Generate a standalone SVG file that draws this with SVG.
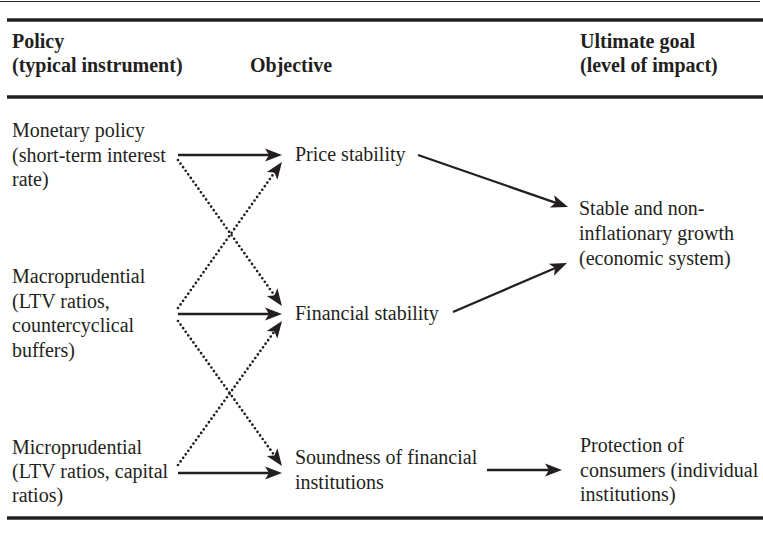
<svg xmlns="http://www.w3.org/2000/svg" width="763" height="541" viewBox="0 0 763 541">
  <style>
    .bg { fill: #ffffff; }
    .rule { stroke: #231f20; fill: none; }
    .thin { stroke-width: 1; }
    .thick { stroke-width: 3.5; }
    .t { font-family: 'Liberation Serif', 'DejaVu Serif', serif; fill: #231f20; }
    .hd { font-size: 20px; font-weight: bold; }
    .bd { font-size: 20px; }
    .solid { stroke: #231f20; stroke-width: 2.3; fill: none; marker-end: url(#head); }
    .dot { stroke: #231f20; stroke-width: 2.7; fill: none; stroke-dasharray: 0 4.4; stroke-linecap: round; marker-end: url(#head); }
  </style>
  <defs>
    <marker id="head" markerUnits="userSpaceOnUse" markerWidth="20" markerHeight="16" refX="5" refY="6.5" orient="auto" overflow="visible">
      <path d="M0,0 L17,6.5 L0,13 L4,6.5 Z" fill="#231f20" stroke="none"/>
    </marker>
  </defs>

  <rect class="bg" x="0" y="0" width="763" height="541"/>

  <!-- table rules -->
  <g id="rules">
    <line class="rule thin" x1="0" y1="1.5" x2="760" y2="1.5"/>
    <line class="rule thick" x1="7" y1="20" x2="763" y2="20"/>
    <line class="rule thick" x1="7" y1="97" x2="763" y2="97"/>
    <line class="rule thick" x1="7" y1="518" x2="763" y2="518"/>
  </g>

  <g class="t" font-family="Liberation Serif, DejaVu Serif, serif">
    <!-- column headers -->
    <g id="header">
      <text class="hd" x="12" y="48">Policy</text>
      <text class="hd" x="12" y="72">(typical instrument)</text>
      <text class="hd" x="250" y="72">Objective</text>
      <text class="hd" x="580" y="48">Ultimate goal</text>
      <text class="hd" x="580" y="72">(level of impact)</text>
    </g>

    <!-- policies -->
    <g id="monetary">
      <text class="bd" x="12" y="137">Monetary policy</text>
      <text class="bd" x="12" y="161.5">(short-term interest</text>
      <text class="bd" x="12" y="186">rate)</text>
    </g>
    <g id="macroprudential">
      <text class="bd" x="12" y="283">Macroprudential</text>
      <text class="bd" x="12" y="307.5">(LTV ratios,</text>
      <text class="bd" x="12" y="332">countercyclical</text>
      <text class="bd" x="12" y="356.5">buffers)</text>
    </g>
    <g id="microprudential">
      <text class="bd" x="12" y="454">Microprudential</text>
      <text class="bd" x="12" y="478">(LTV ratios, capital</text>
      <text class="bd" x="12" y="502">ratios)</text>
    </g>

    <!-- objectives -->
    <g id="price-stability">
      <text class="bd" x="295" y="161">Price stability</text>
    </g>
    <g id="financial-stability">
      <text class="bd" x="295" y="320">Financial stability</text>
    </g>
    <g id="soundness">
      <text class="bd" x="295" y="464">Soundness of financial</text>
      <text class="bd" x="295" y="488.5">institutions</text>
    </g>

    <!-- ultimate goals -->
    <g id="growth">
      <text class="bd" x="579" y="215">Stable and non-</text>
      <text class="bd" x="579" y="240">inflationary growth</text>
      <text class="bd" x="579" y="265">(economic system)</text>
    </g>
    <g id="consumers">
      <text class="bd" x="580" y="452">Protection of</text>
      <text class="bd" x="580" y="477">consumers (individual</text>
      <text class="bd" x="580" y="501">institutions)</text>
    </g>
  </g>

  <!-- connectors -->
  <g id="connectors">
    <line class="solid" x1="178" y1="155" x2="270" y2="155"/>
    <line class="solid" x1="178" y1="314" x2="270" y2="314"/>
    <line class="solid" x1="178" y1="473" x2="270" y2="473"/>
    <line class="dot" x1="178" y1="160" x2="275" y2="296.2"/>
    <line class="dot" x1="178" y1="308" x2="275" y2="171.8"/>
    <line class="dot" x1="178" y1="321" x2="275" y2="456.2"/>
    <line class="dot" x1="178" y1="465" x2="275" y2="330.7"/>
    <line class="solid" x1="418" y1="155" x2="556.7" y2="203.1"/>
    <line class="solid" x1="453" y1="312" x2="556" y2="267.7"/>
    <line class="solid" x1="487" y1="470" x2="550" y2="470"/>
  </g>
</svg>
